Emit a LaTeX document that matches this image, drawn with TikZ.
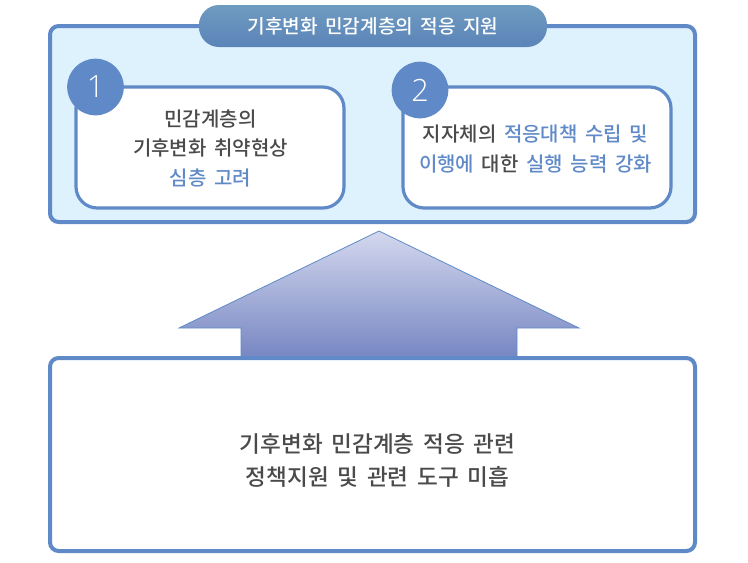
\documentclass[tikz,border=0pt]{standalone}
\usepackage{fontspec}
\setmainfont{Noto Sans CJK KR Medium}[WordSpace=1.7]
\newfontfamily\numfont{Open Sans Light}
\definecolor{bluel}{HTML}{5F8AC7}
\definecolor{darkt}{HTML}{4A4A4A}
\definecolor{pale}{HTML}{DDF2FD}
\definecolor{pilltop}{HTML}{6E9BC0}
\definecolor{pillbot}{HTML}{5B84B8}
\definecolor{arrowtop}{HTML}{D4D8EE}
\definecolor{arrowbot}{HTML}{7686C2}
\tikzset{
  panel/.style={draw=bluel,line width=3pt,rounded corners=6.5pt,fill=white,inner sep=0pt},
  card/.style={draw=bluel,line width=2.4pt,rounded corners=16pt,fill=white,inner sep=0pt},
  badge/.style={circle,fill=bluel,minimum size=42.5pt,inner sep=0pt,text=white,font=\numfont\fontsize{23}{23}\selectfont},
  pill/.style={rounded corners=15pt,top color=pilltop,bottom color=pillbot,inner sep=0pt,text=white},
  body/.style={align=center,text=darkt,font=\fontsize{15}{22}\selectfont,inner sep=0pt},
}
\newcommand{\hl}[1]{\textcolor{bluel}{#1}}
\begin{document}
\begin{tikzpicture}[x=0.75pt,y=-0.75pt]
\useasboundingbox (0,0) rectangle (748,562);
% upper panel
\draw[panel,fill=pale] (50,26) rectangle (695,222);
\node[pill,minimum width=261pt,minimum height=31.5pt] (title) at (373,26) {};
\node[text=white,inner sep=0pt,font=\fontsize{14.35}{14.35}\selectfont] (titletext) at (373,26.5) {기후변화 민감계층의 적응 지원};
% cards
\draw[card] (76,87) rectangle (344,208);
\draw[card] (403,87) rectangle (671,208);
\node[badge] (n1) at (95.5,87) {1};
\node[badge] (n2) at (420,90) {2};
\node[body] (t1) at (210.5,148.5) {민감계층의\\기후변화 취약현상\\\hl{심층 고려}};
\node[body] (t2) at (535.5,149) {지자체의 \hl{적응대책 수립 및}\\\hl{이행에} 대한 \hl{실행 능력 강화}};
% arrow
\draw[draw=bluel,line width=0.6pt,top color=arrowtop,bottom color=arrowbot] (379,231) -- (579,328) -- (517,328) -- (517,358) -- (241,358) -- (241,328) -- (179,328) -- cycle;
% lower panel
\draw[panel] (50,358) rectangle (695,551);
\node[body,font=\fontsize{16.95}{24.75}\selectfont] (t3) at (377.5,460) {기후변화 민감계층 적응 관련\\정책지원 및 관련 도구 미흡};
\end{tikzpicture}
\end{document}
